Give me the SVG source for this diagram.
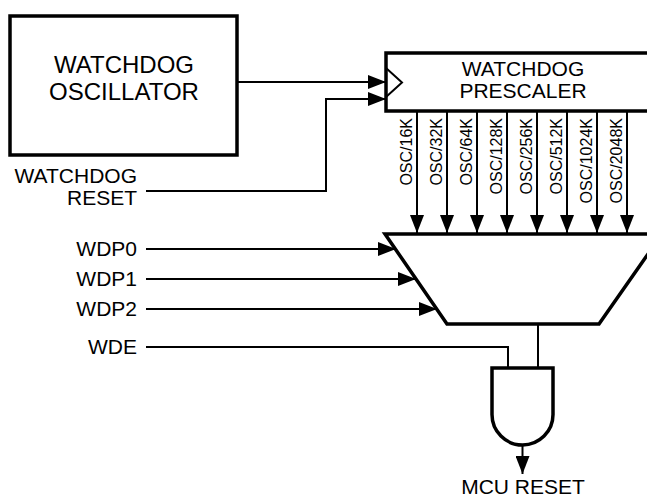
<svg xmlns="http://www.w3.org/2000/svg" width="647" height="499" viewBox="0 0 647 499">
<style>
text{font-family:"Liberation Sans",Arial,sans-serif;fill:#000}
.lbl{font-size:21px}
.big{font-size:24px}
.osc{font-size:16px}
.box{fill:#fff;stroke:#000;stroke-width:3.5}
.wire{fill:none;stroke:#000;stroke-width:2}
</style>
<defs>
<marker id="ah" markerUnits="userSpaceOnUse" markerWidth="18" markerHeight="14" refX="18" refY="7" orient="auto">
<path d="M0,0 L18,7 L0,14 Z" fill="#000"/>
</marker>
</defs>
<rect width="647" height="499" fill="#fff"/>
<g id="oscillator">
<rect class="box" x="10" y="16" width="227" height="139" stroke-width="4"/>
<text class="big" x="124" y="73" text-anchor="middle">WATCHDOG</text>
<text class="big" x="124" y="100" text-anchor="middle">OSCILLATOR</text>
</g>
<g id="prescaler">
<rect class="box" x="386" y="53" width="280" height="58"/>
<polyline class="wire" points="386,68 402,82.5 386,97"/>
<text class="lbl" x="523" y="76" text-anchor="middle">WATCHDOG</text>
<text class="lbl" x="523" y="98" text-anchor="middle">PRESCALER</text>
</g>
<g id="mux">
<polygon class="box" points="385,234 662,234 599,324 447,324" stroke-width="3.5"/>
</g>
<g id="and-gate">
<path class="box" d="M492,368 L553,368 L553,414.5 A30.5,30.5 0 0 1 492,414.5 Z"/>
</g>
<g id="labels">
<text class="lbl" x="137" y="183" text-anchor="end">WATCHDOG</text>
<text class="lbl" x="137" y="205" text-anchor="end">RESET</text>
<text class="lbl" x="137" y="256" text-anchor="end">WDP0</text>
<text class="lbl" x="137" y="286" text-anchor="end">WDP1</text>
<text class="lbl" x="137" y="316" text-anchor="end">WDP2</text>
<text class="lbl" x="137" y="354" text-anchor="end">WDE</text>
<text class="lbl" x="523" y="494" text-anchor="middle">MCU RESET</text>
<text class="osc" transform="translate(412,118) rotate(-90)" text-anchor="end">OSC/16K</text>
<text class="osc" transform="translate(442,118) rotate(-90)" text-anchor="end">OSC/32K</text>
<text class="osc" transform="translate(472,118) rotate(-90)" text-anchor="end">OSC/64K</text>
<text class="osc" transform="translate(502,118) rotate(-90)" text-anchor="end">OSC/128K</text>
<text class="osc" transform="translate(532,118) rotate(-90)" text-anchor="end">OSC/256K</text>
<text class="osc" transform="translate(562,118) rotate(-90)" text-anchor="end">OSC/512K</text>
<text class="osc" transform="translate(592,118) rotate(-90)" text-anchor="end">OSC/1024K</text>
<text class="osc" transform="translate(622,118) rotate(-90)" text-anchor="end">OSC/2048K</text>
</g>
<g id="connectors">
<path class="wire" d="M237,82 L386,82" marker-end="url(#ah)"/>
<path class="wire" d="M146,191 L326,191 L326,99 L386,99" marker-end="url(#ah)"/>
<path class="wire" d="M417,112 L417,233" marker-end="url(#ah)"/>
<path class="wire" d="M447,112 L447,233" marker-end="url(#ah)"/>
<path class="wire" d="M477,112 L477,233" marker-end="url(#ah)"/>
<path class="wire" d="M507,112 L507,233" marker-end="url(#ah)"/>
<path class="wire" d="M537,112 L537,233" marker-end="url(#ah)"/>
<path class="wire" d="M567,112 L567,233" marker-end="url(#ah)"/>
<path class="wire" d="M597,112 L597,233" marker-end="url(#ah)"/>
<path class="wire" d="M627,112 L627,233" marker-end="url(#ah)"/>
<path class="wire" d="M146,249 L396,249" marker-end="url(#ah)"/>
<path class="wire" d="M146,279 L416,279" marker-end="url(#ah)"/>
<path class="wire" d="M146,309 L437,309" marker-end="url(#ah)"/>
<path class="wire" d="M146,347 L508,347 L508,368"/>
<path class="wire" d="M538,325 L538,368"/>
<path class="wire" d="M522.5,446 L522.5,474" marker-end="url(#ah)"/>
</g>
</svg>
